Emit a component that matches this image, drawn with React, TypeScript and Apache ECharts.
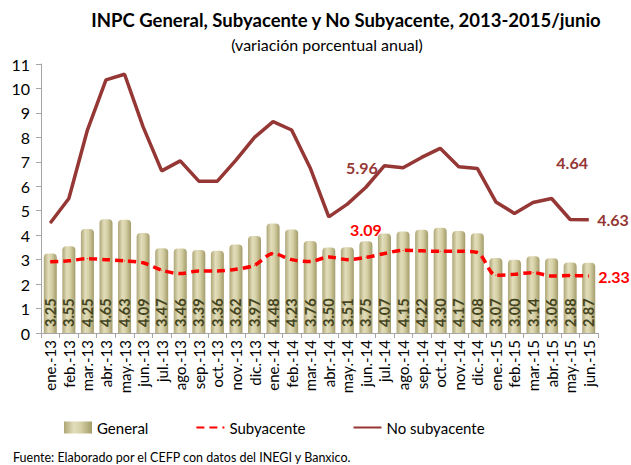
import React, { useEffect, useRef } from "react";
import * as echarts from "echarts";

const categories = [
  "ene.-13", "feb.-13", "mar.-13", "abr.-13", "may.-13", "jun.-13", "jul.-13", "ago.-13", "sep.-13", "oct.-13", "nov.-13", "dic.-13",
  "ene.-14", "feb.-14", "mar.-14", "abr.-14", "may.-14", "jun.-14", "jul.-14", "ago.-14", "sep.-14", "oct.-14", "nov.-14", "dic.-14",
  "ene.-15", "feb.-15", "mar.-15", "abr.-15", "may.-15", "jun.-15",
];

const general = [
  3.25, 3.55, 4.25, 4.65, 4.63, 4.09, 3.47, 3.46, 3.39, 3.36, 3.62, 3.97,
  4.48, 4.23, 3.76, 3.50, 3.51, 3.75, 4.07, 4.15, 4.22, 4.30, 4.17, 4.08,
  3.07, 3.00, 3.14, 3.06, 2.88, 2.87,
];

const subyacente = [
  2.91, 2.95, 3.04, 3.00, 2.95, 2.87, 2.57, 2.43, 2.54, 2.54, 2.61, 2.77,
  3.25, 3.00, 2.92, 3.11, 3.00, 3.09, 3.25, 3.38, 3.36, 3.34, 3.34, 3.29,
  2.36, 2.40, 2.47, 2.33, 2.35, 2.33,
];

const noSubyacente = [
  4.50, 5.50, 8.30, 10.35, 10.58, 8.43, 6.63, 7.04, 6.21, 6.21, 7.07, 8.00,
  8.64, 8.30, 6.75, 4.75, 5.27, 5.96, 6.84, 6.76, 7.18, 7.55, 6.80, 6.73,
  5.36, 4.89, 5.34, 5.50, 4.64, 4.63,
];

const yTicks = { min: 0, max: 11, interval: 1 };

const FONT = "Lato, 'Open Sans', sans-serif";

export default function App() {
  const ref = useRef<HTMLDivElement>(null);
  useEffect(() => {
    if (!ref.current) return;
    const chart = echarts.init(ref.current, null, { renderer: "svg" });
    const barColor = new echarts.graphic.LinearGradient(0, 0, 1, 0, [
      { offset: 0, color: "#aea676" },
      { offset: 0.35, color: "#e2ddbb" },
      { offset: 0.6, color: "#d6d0a6" },
      { offset: 1, color: "#a39b69" },
    ]);
    const lastIdx = categories.length - 1;
    const noSubData = noSubyacente.map((v, i) => {
      if (i === 17)
        return { value: v, label: { show: true, position: "top", offset: [-4, -6] } };
      if (i === 28)
        return { value: v, label: { show: true, position: "top", offset: [2, -44] } };
      if (i === lastIdx)
        return { value: v, label: { show: true, position: "right", distance: 8 } };
      return v;
    });
    const subData = subyacente.map((v, i) => {
      if (i === 17)
        return { value: v, label: { show: true, position: "top", offset: [0, -14] } };
      if (i === lastIdx)
        return { value: v, label: { show: true, position: "right", distance: 9 } };
      return v;
    });
    chart.setOption({
      animation: false,
      textStyle: { fontFamily: FONT },
      title: [
        {
          text: "INPC General, Subyacente y No Subyacente, 2013-2015/junio",
          left: 341,
          textAlign: "center",
          top: 5,
          textStyle: { fontSize: 18.5, fontWeight: "bold", color: "#000", fontFamily: FONT },
        },
        {
          text: "(variación porcentual anual)",
          left: 322,
          textAlign: "center",
          top: 31,
          textStyle: { fontSize: 16, fontWeight: "normal", color: "#000", fontFamily: FONT },
        },
        {
          text: "Fuente: Elaborado por el CEFP con datos del INEGI y Banxico.",
          left: 8,
          top: 446,
          textStyle: { fontSize: 12.5, fontWeight: "normal", color: "#000", fontFamily: FONT },
        },
      ],
      legend: {
        left: 59,
        top: 415,
        itemWidth: 28,
        itemHeight: 12,
        itemGap: 47,
        textStyle: { fontSize: 15, color: "#000", fontFamily: FONT },
        data: [
          { name: "General", icon: "rect" },
          { name: "Subyacente", itemStyle: { opacity: 0 } },
          { name: "No subyacente", itemStyle: { opacity: 0 } },
        ],
      },
      grid: { left: 41, right: 33, top: 64, bottom: 132 },
      xAxis: {
        type: "category",
        data: categories,
        boundaryGap: true,
        axisLine: { lineStyle: { color: "#a6a6a6", width: 1 } },
        axisTick: { show: true, length: 5, lineStyle: { color: "#a6a6a6" } },
        axisLabel: { rotate: 90, fontSize: 15, color: "#000", interval: 0, margin: 7, fontFamily: FONT },
      },
      yAxis: {
        type: "value",
        min: yTicks.min,
        max: yTicks.max,
        interval: yTicks.interval,
        axisLine: { show: true, lineStyle: { color: "#a6a6a6", width: 1 } },
        axisTick: { show: true, length: 5, lineStyle: { color: "#a6a6a6" } },
        splitLine: { show: false },
        axisLabel: { fontSize: 16, color: "#000", margin: 11, fontFamily: FONT },
      },
      series: [
        {
          name: "General",
          type: "bar",
          data: general,
          barWidth: 13,
          itemStyle: { color: barColor, borderRadius: [4, 4, 0, 0] },
          label: {
            show: true,
            position: "insideBottom",
            rotate: 90,
            align: "left",
            verticalAlign: "middle",
            distance: 6,
            formatter: (p: any) => p.value.toFixed(2),
            fontSize: 14.5,
            fontWeight: "bold",
            color: "#44441e",
            fontFamily: FONT,
          },
          z: 1,
        },
        {
          name: "Subyacente",
          type: "line",
          data: subData,
          smooth: 0.3,
          symbol: "circle",
          symbolSize: 1,
          lineStyle: { color: "#ff0000", width: 3.5, type: [8, 5] },
          itemStyle: { color: "#ff0000" },
          label: {
            show: false,
            fontSize: 16,
            fontWeight: "bold",
            color: "#ff0000",
            formatter: (p: any) => p.value.toFixed(2),
            fontFamily: FONT,
          },
          z: 3,
        },
        {
          name: "No subyacente",
          type: "line",
          data: noSubData,
          symbol: "circle",
          symbolSize: 1,
          lineStyle: { color: "#953735", width: 3.5 },
          itemStyle: { color: "#953735" },
          label: {
            show: false,
            fontSize: 16,
            fontWeight: "bold",
            color: "#953735",
            formatter: (p: any) => p.value.toFixed(2),
            fontFamily: FONT,
          },
          z: 4,
        },
      ],
    });
    return () => chart.dispose();
  }, []);
  return <div ref={ref} style={{ width: 631, height: 465, position: "absolute", left: 0, top: 0 }} />;
}
